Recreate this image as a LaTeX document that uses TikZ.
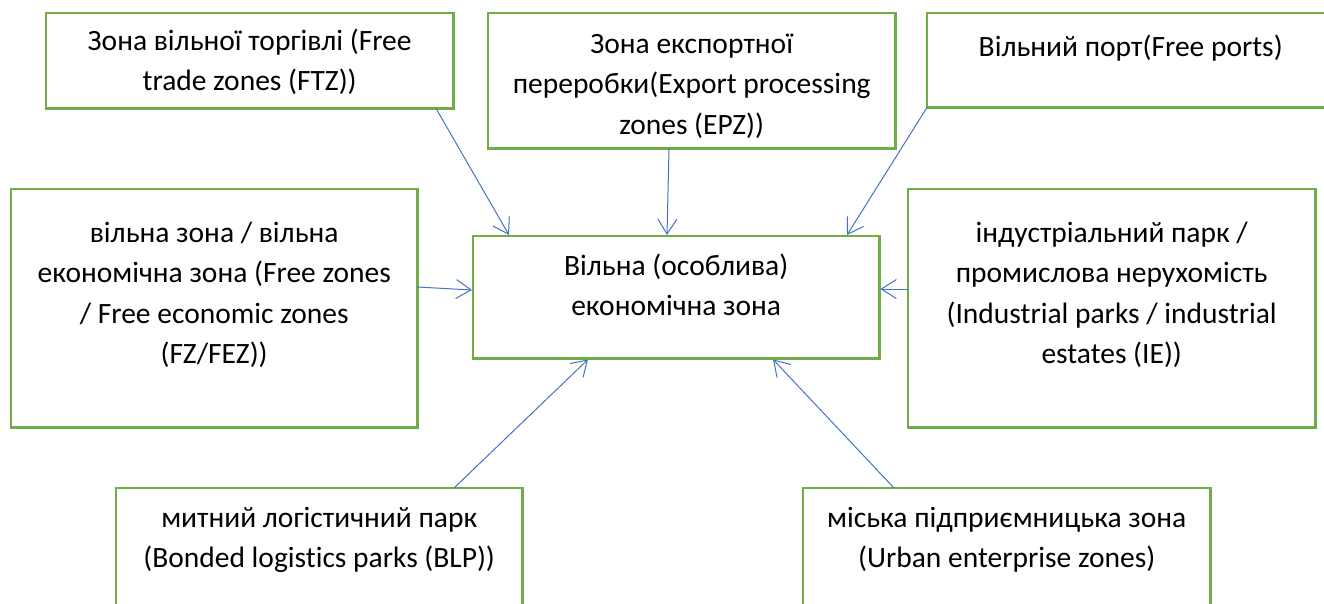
\documentclass[tikz,border=0pt]{standalone}
\usepackage{fontspec}
\setmainfont{Carlito}[Ligatures=NoCommon]
\usetikzlibrary{arrows.meta,calc}
\definecolor{boxgreen}{HTML}{70AD47}
\definecolor{arrowblue}{HTML}{4472C4}
\begin{document}
\begin{tikzpicture}[x=1pt,y=-1pt,
  zbox/.style={draw=boxgreen, line width=2.5pt, fill=white},
  zframe/.style={inner sep=0pt, anchor=north west},
  ztxt/.style={anchor=north, inner sep=0pt, align=center,
    font=\fontsize{29.5}{40.5}\selectfont},
  zarrow/.style={draw=arrowblue, line width=1pt,
    -{Straight Barb[length=15pt,width=19pt,line width=1pt]}}
]
\useasboundingbox (0,0) rectangle (1324,603);
% boxes
\node[zframe, minimum width=407, minimum height=95] (ftz) at (46,13) {};
\node[zframe, minimum width=407, minimum height=135] (epz) at (488,13) {};
\node[zframe, minimum width=407, minimum height=94] (fp) at (927,13) {};
\node[zframe, minimum width=406, minimum height=238] (fz) at (11,189) {};
\node[zframe, minimum width=406, minimum height=122] (sez) at (473,236) {};
\node[zframe, minimum width=407, minimum height=238] (ie) at (908,189) {};
\node[zframe, minimum width=406, minimum height=140] (blp) at (116,488) {};
\node[zframe, minimum width=407, minimum height=140] (uez) at (803,488) {};
\foreach \n in {ftz,epz,fp,fz,sez,ie,blp,uez}{\draw[zbox] (\n.north west) rectangle (\n.south east);}
% texts
\node[ztxt] (tftz) at ($(ftz.north)+(0,7)$) {\rule{0pt}{30pt}Зона вільної торгівлі (Free\\trade zones (FTZ))};
\node[ztxt] (tepz) at ($(epz.north)+(0,10)$) {\rule{0pt}{30pt}Зона експортної\\переробки(Export processing\\zones (EPZ))};
\node[ztxt] (tfp) at ($(fp.north)+(0,13)$) {\rule{0pt}{30pt}Вільний порт(Free ports)};
\node[ztxt] (tfz) at ($(fz.north)+(0,23)$) {\rule{0pt}{30pt}вільна зона / вільна\\економічна зона (Free zones\\/ Free economic zones\\(FZ/FEZ))};
\node[ztxt] (tsez) at ($(sez.north)+(0,9)$) {\rule{0pt}{30pt}Вільна (особлива)\\економічна зона};
\node[ztxt] (tie) at ($(ie.north)+(0,23)$) {\rule{0pt}{30pt}індустріальний парк /\\промислова нерухомість\\(Industrial parks / industrial\\estates (IE))};
\node[ztxt] (tblp) at ($(blp.north)+(0,9)$) {\rule{0pt}{30pt}митний логістичний парк\\(Bonded logistics parks (BLP))};
\node[ztxt] (tuez) at ($(uez.north)+(0,9)$) {\rule{0pt}{30pt}міська підприємницька зона\\(Urban enterprise zones)};
% arrows
\draw[zarrow] ($(ftz.south west)+(390,0)$) -- ($(sez.north west)+(36,-1)$);
\draw[zarrow] ($(epz.south west)+(181,0)$) -- ($(sez.north west)+(194,-1)$);
\draw[zarrow] (fp.south west) -- ($(sez.north west)+(374,-1)$);
\draw[zarrow] ($(fz.north east)+(0,98)$) -- ($(sez.north west)+(-1,54)$);
\draw[zarrow] ($(ie.north west)+(0,100)$) -- ($(sez.north east)+(1,53)$);
\draw[zarrow] ($(blp.north west)+(338,0)$) -- ($(sez.south west)+(115,1)$);
\draw[zarrow] ($(uez.north west)+(91,0)$) -- ($(sez.south west)+(300,1)$);
\end{tikzpicture}
\end{document}
